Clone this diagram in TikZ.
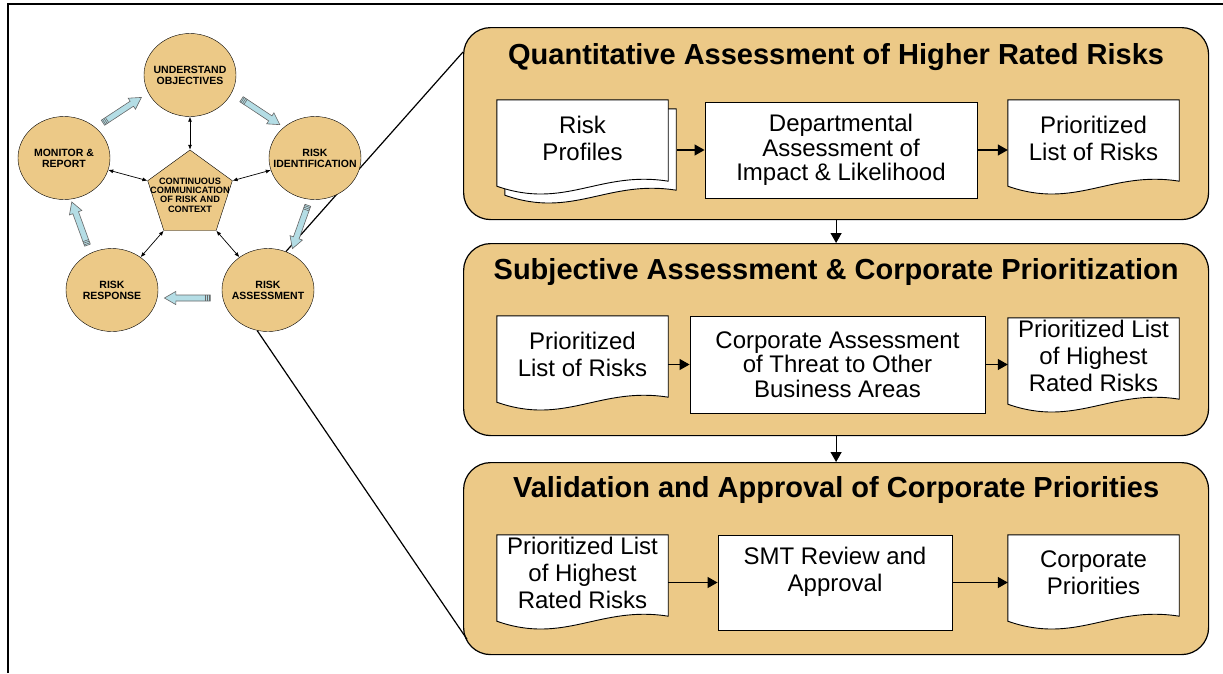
\documentclass[tikz,border=0pt]{standalone}
\usepackage{fontspec}
\setmainfont{Liberation Sans}
\usetikzlibrary{positioning,calc,shapes.geometric,shapes.arrows,arrows.meta}
\definecolor{sand}{RGB}{236,201,135}
\definecolor{ice}{RGB}{180,221,229}
\pgfdeclarelayer{back}
\pgfdeclarelayer{mid}
\pgfsetlayers{back,mid,main}
\newcommand{\docpath}[1]{(#1.north west) -- (#1.north east) -- ($(#1.south east)+(0,5)$)
  .. controls ($(#1.south west)+(103,-6)$) and ($(#1.south west)+(68,34)$) .. ($(#1.south west)+(0,10)$) -- cycle}
\begin{document}
\begin{tikzpicture} [
                x=1pt, y=-1pt,
                stage/.style={ellipse,draw,fill=sand,minimum width=92pt,minimum height=83pt,inner sep=0pt},
                stagetext/.style={align=center,font=\fontsize{10.5}{11}\selectfont\bfseries},
                hub/.style={regular polygon,regular polygon sides=5,draw,fill=sand,minimum size=89pt,inner sep=0pt},
                hubtext/.style={align=center,font=\fontsize{9.2}{9.3}\selectfont\bfseries},
                link/.style={draw,line width=0.7pt,{Latex[length=5pt,width=4pt]}-{Latex[length=5pt,width=4pt]}},
                turn/.style={single arrow,draw=black!60,fill=ice,line width=0.6pt,minimum height=46pt,inner sep=2.7pt,single arrow head extend=3.6pt,single arrow tip angle=60},
                stripe/.style={draw=black!60,line width=0.6pt},
                panel/.style={draw,fill=sand,rounded corners=27pt,line width=1.2pt,minimum width=745pt,minimum height=192pt,anchor=north west},
                heading/.style={font=\fontsize{29}{32}\selectfont\bfseries},
                doc/.style={minimum width=171pt,minimum height=76pt,inner sep=0pt,align=center,font=\fontsize{24}{27}\selectfont},
                docline/.style={draw,fill=white,line width=0.9pt},
                task/.style={draw,fill=white,line width=0.9pt,inner sep=0pt,align=center,font=\fontsize{24}{24.5}\selectfont},
                flow/.style={draw,line width=1.2pt,-{Triangle[length=10pt,width=11pt]}},
                zoomline/.style={draw,line width=1.2pt},
                frame/.style={draw,line width=1.6pt},
            ]
            \useasboundingbox (0,0) rectangle (1223,673);
            \draw[frame] (8,673) -- (8,4) -- (1223,4);

            \foreach \pos/\name/\txt in {
            {(190,75)/und/{UNDERSTAND\\OBJECTIVES}}, {(315,158)/idn/{RISK\\IDENTIFICATION}},
            {(268,290)/asm/{RISK\\ASSESSMENT}}, {(112,290)/rsp/{RISK\\RESPONSE}}, {(64,158)/mon/{MONITOR \&\\REPORT}}}
              {
                \node[stage] (\name) at \pos {};
                \node[stagetext] at (\name) {\txt};
              }
            \node[hub] (comm) at (190,194.5) {};
            \node[hubtext] at (190,195) {CONTINUOUS\\COMMUNICATION\\OF RISK AND\\CONTEXT};
            \foreach \corner/\dest in {1/und, 2/mon, 3/rsp, 4/asm, 5/idn}
                \path[link] (comm.corner \corner) -- (\dest);
            \foreach \pos/\source/\dest in {
            {(120,111.5)/mon/und}, {(258.5,110.5)/und/idn}, {(301,224.5)/idn/asm}, {(190,298)/asm/rsp}, {(80.5,226)/rsp/mon}}
              {
                \path let \p1 = ($(\dest)-(\source)$), \n1 = {atan2(\y1,\x1)} in
                    node[turn, rotate=\n1] (t\source) at \pos {};
                \foreach \f in {0.05,0.1,0.15}
                    \path[stripe] ($(t\source.before tail)!\f!(t\source.after head)$) -- ($(t\source.after tail)!\f!(t\source.before head)$);
              }

            \begin{pgfonlayer}{back}
            \node[panel] (p1) at (463,27) {};
            \node[panel] (p2) at (463,243) {};
            \node[panel] (p3) at (463,462) {};
            \path[zoomline] (asm.65) -- ($(p1.north west)+(0,25)$);
            \path[zoomline] (asm.255) -- ($(p3.south west)+(4,-16)$);
            \end{pgfonlayer}
            \node[heading] (h1) at ($(p1.north)+(0,30)$) {Quantitative Assessment of Higher Rated Risks};
            \node[heading] (h2) at ($(p2.north)+(0,29)$) {Subjective Assessment \& Corporate Prioritization};
            \node[heading] (h3) at ($(p3.north)+(0,28)$) {Validation and Approval of Corporate Priorities};

            \node[doc] (rp) at (582.5,138) {Risk\\Profiles};
            \node[doc] (pl1) at (1093.5,138) {Prioritized\\List of Risks};
            \node[doc] (pl2) at (582.5,354) {Prioritized\\List of Risks};
            \node[doc] (hr2) at (1093.5,356) {Prioritized List\\of Highest\\Rated Risks};
            \node[doc] (hr3) at (582.5,573) {Prioritized List\\of Highest\\Rated Risks};
            \node[doc] (cp3) at (1093.5,573) {Corporate\\Priorities};
            \begin{pgfonlayer}{mid}
            \path[docline, transform canvas={xshift=8pt,yshift=-9pt}] \docpath{rp};
            \foreach \name in {rp,pl1,pl2,hr2,hr3,cp3}
                \path[docline] \docpath{\name};
            \end{pgfonlayer}

            \node[task, minimum width=272pt, minimum height=96pt] (dep) at (841,150) {Departmental\\Assessment of\\Impact \& Likelihood};
            \node[task, minimum width=295pt, minimum height=97pt] (corp) at (837.5,364.5) {Corporate Assessment\\of Threat to Other\\Business Areas};
            \node[task, minimum width=234pt, minimum height=95pt, text depth=26pt, font=\fontsize{24}{27}\selectfont] (smt) at (835,582.5) {SMT Review and\\Approval};

            \path[flow, shorten <=9pt] (rp.east |- dep.west) -- (dep.west);
            \path[flow] (dep.east) -- (dep.east -| pl1.west);
            \path[flow] (pl2.east |- corp.west) -- (corp.west);
            \path[flow] (corp.east) -- (corp.east -| hr2.west);
            \path[flow] (hr3.east |- smt.west) -- (smt.west);
            \path[flow] (smt.east) -- (smt.east -| cp3.west);
            \path[flow] (p1.south) -- (p2.north);
            \path[flow] (p2.south) -- (p3.north);
\end{tikzpicture}
\end{document}
